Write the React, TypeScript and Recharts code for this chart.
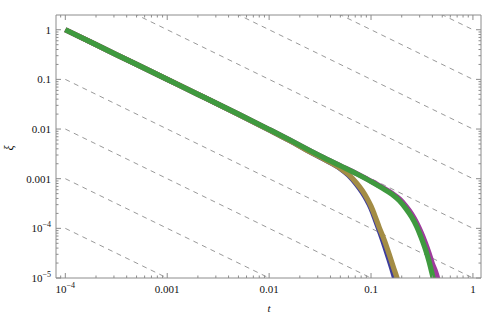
import React from 'react';
import { LineChart, Line, XAxis, YAxis, ReferenceLine } from 'recharts';

// ---------- data ----------
const X_DOMAIN: [number, number] = [8.1e-5, 1.2];
const Y_DOMAIN: [number, number] = [1e-5, 1.98];

const xMajorTicks = [1e-4, 1e-3, 1e-2, 1e-1, 1];
const xMajorLabels = [['10', '−4'], ['0.001'], ['0.01'], ['0.1'], ['1']];
const yMajorTicks = [1e-5, 1e-4, 1e-3, 1e-2, 1e-1, 1];
const yMajorLabels = [['10', '−5'], ['10', '−4'], ['0.001'], ['0.01'], ['0.1'], ['1']];
const minorMultipliers = [2, 3, 4, 5, 6, 7, 8, 9];

// dashed guide lines: value at t = 1e-4 and at t = 1
const guideT = [1e-4, 1];
const guideXiStart = [1e4, 1e3, 100, 10, 1, 0.1, 0.01, 1e-3, 1e-4];
const guideXiEnd = [1, 0.1, 0.01, 1e-3, 1e-4, 1e-5, 1e-6, 1e-7, 1e-8];

// curves
const tBlue = [1e-4, 2e-4, 5e-4, 1e-3, 2e-3, 5e-3, 0.01, 0.016, 0.025, 0.035, 0.05, 0.06, 0.072, 0.082, 0.091, 0.1, 0.11, 0.12, 0.135, 0.15, 0.165, 0.18];
const xiBlue = [1, 0.5, 0.2, 0.1, 0.05, 0.0198, 0.0096, 0.0058, 0.0035, 0.00243, 0.0016, 0.00118, 0.00077, 0.00053, 0.00037, 0.00025, 0.00015, 9.2e-5, 4.6e-5, 2.35e-5, 1.25e-5, 6.5e-6];

const tMagenta = [1e-4, 2e-4, 5e-4, 1e-3, 2e-3, 5e-3, 0.01, 0.016, 0.025, 0.035, 0.05, 0.072, 0.1, 0.13, 0.16, 0.19, 0.22, 0.25, 0.28, 0.31, 0.34, 0.37, 0.4, 0.43, 0.46];
const xiMagenta = [1, 0.5, 0.2, 0.1, 0.05, 0.0199, 0.0098, 0.006, 0.0037, 0.0026, 0.00182, 0.00127, 0.00089, 0.00066, 0.00051, 0.00039, 0.00028, 0.000195, 0.00013, 8.3e-5, 5.2e-5, 3.2e-5, 1.95e-5, 1.35e-5, 8.5e-6];

const tGold = [1e-4, 2e-4, 5e-4, 1e-3, 2e-3, 5e-3, 0.01, 0.016, 0.025, 0.035, 0.05, 0.06, 0.072, 0.082, 0.091, 0.1, 0.11, 0.12, 0.135, 0.15, 0.165, 0.18, 0.195];
const xiGold = [1, 0.5, 0.2, 0.1, 0.05, 0.0198, 0.0096, 0.0058, 0.0035, 0.00245, 0.00162, 0.00122, 0.00082, 0.00058, 0.00041, 0.00028, 0.000172, 0.000106, 5.8e-5, 3.1e-5, 1.7e-5, 1.0e-5, 5.8e-6];

const tGreen = [1e-4, 2e-4, 5e-4, 1e-3, 2e-3, 5e-3, 0.01, 0.016, 0.025, 0.035, 0.05, 0.072, 0.1, 0.13, 0.16, 0.19, 0.22, 0.25, 0.28, 0.31, 0.34, 0.37, 0.4, 0.43];
const xiGreen = [1, 0.5, 0.2, 0.1, 0.05, 0.0199, 0.0098, 0.006, 0.0037, 0.0026, 0.00182, 0.00126, 0.00088, 0.00064, 0.00049, 0.00036, 0.00025, 0.00017, 0.00011, 6.6e-5, 3.9e-5, 2.2e-5, 1.15e-5, 6e-6];

// ---------- styling ----------
const W = 486;
const H = 318;
const PLOT_L = 56;
const PLOT_R = 481;
const PLOT_T = 15;
const PLOT_B = 278;
const FRAME = '#8c8c8c';
const TEXT = '#111';
const FONT = '"Liberation Serif", "Times New Roman", serif';

const zip = (ts: number[], xs: number[]) => ts.map((t, i) => ({ t, xi: xs[i] }));

const buildTicks = (majors: number[], lo: number, hi: number) => {
  const out: number[] = [];
  const first = majors[0] / 10;
  [first, ...majors].forEach((m) => {
    if (m >= lo && m <= hi) out.push(m);
    minorMultipliers.forEach((k) => {
      const v = m * k;
      if (v >= lo && v <= hi) out.push(v);
    });
  });
  return out.sort((a, b) => a - b);
};

const xTicks = buildTicks(xMajorTicks, X_DOMAIN[0], X_DOMAIN[1]);
const yTicks = buildTicks(yMajorTicks, Y_DOMAIN[0], Y_DOMAIN[1]);

const majorIndex = (list: number[], v: number) =>
  list.findIndex((m) => Math.abs(m - v) / m < 1e-6);

const Label = ({ parts, x, y, anchor }: { parts: string[]; x: number; y: number; anchor: 'middle' | 'end' }) => (
  <text x={x} y={y} textAnchor={anchor} fontFamily={FONT} fontSize={11} fill={TEXT}>
    <tspan>{parts[0]}</tspan>
    {parts[1] && (
      <tspan dy={-5} fontSize={8}>
        {parts[1]}
      </tspan>
    )}
  </text>
);

const XTick = (props: any) => {
  const { x, payload } = props;
  const idx = majorIndex(xMajorTicks, payload.value);
  const len = idx >= 0 ? 5 : 2.5;
  return (
    <g>
      <line x1={x} x2={x} y1={PLOT_B} y2={PLOT_B - len} stroke={FRAME} strokeWidth={1} />
      <line x1={x} x2={x} y1={PLOT_T} y2={PLOT_T + len} stroke={FRAME} strokeWidth={1} />
      {idx >= 0 && <Label parts={xMajorLabels[idx]} x={x} y={PLOT_B + 15} anchor="middle" />}
    </g>
  );
};

const YTick = (props: any) => {
  const { y, payload } = props;
  const idx = majorIndex(yMajorTicks, payload.value);
  const len = idx >= 0 ? 5 : 2.5;
  return (
    <g>
      <line x1={PLOT_L} x2={PLOT_L + len} y1={y} y2={y} stroke={FRAME} strokeWidth={1} />
      <line x1={PLOT_R} x2={PLOT_R - len} y1={y} y2={y} stroke={FRAME} strokeWidth={1} />
      {idx >= 0 && <Label parts={yMajorLabels[idx]} x={PLOT_L - 5} y={y + 4} anchor="end" />}
    </g>
  );
};

const XTitle = () => (
  <text x={269} y={312} textAnchor="middle" fontFamily={FONT} fontStyle="italic" fontSize={11} fill={TEXT}>
    t
  </text>
);

const YTitle = () => (
  <text
    x={9}
    y={148}
    textAnchor="middle"
    dominantBaseline="central"
    transform="rotate(-90 9 148)"
    fontFamily={FONT}
    fontStyle="italic"
    fontSize={12}
    fill={TEXT}
  >
    ξ
  </text>
);

const curves = [
  { key: 'blue', data: zip(tBlue, xiBlue), color: '#3d3d9c' },
  { key: 'magenta', data: zip(tMagenta, xiMagenta), color: '#9e3c9c' },
  { key: 'gold', data: zip(tGold, xiGold), color: '#a38c45' },
  { key: 'green', data: zip(tGreen, xiGreen), color: '#3f9a3f' },
];

const guides = guideXiStart.map((s, i) => [
  { t: guideT[0], xi: s },
  { t: guideT[1], xi: guideXiEnd[i] },
]);

export default function App() {
  return (
    <div style={{ position: 'absolute', left: 0, top: 0, width: W, height: H, background: '#fff' }}>
      <LineChart width={W} height={H} margin={{ top: PLOT_T, right: W - PLOT_R, bottom: 0, left: 0 }}>
        <XAxis
          dataKey="t"
          type="number"
          scale="log"
          domain={X_DOMAIN}
          allowDataOverflow
          ticks={xTicks}
          interval={0}
          height={H - PLOT_B}
          tickLine={false}
          tickSize={0}
          tickMargin={0}
          axisLine={{ stroke: FRAME }}
          tick={<XTick />}
          label={<XTitle />}
        />
        <YAxis
          dataKey="xi"
          type="number"
          scale="log"
          domain={Y_DOMAIN}
          allowDataOverflow
          ticks={yTicks}
          interval={0}
          width={PLOT_L}
          tickLine={false}
          tickSize={0}
          tickMargin={0}
          axisLine={{ stroke: FRAME }}
          tick={<YTick />}
          label={<YTitle />}
        />
        <ReferenceLine y={Y_DOMAIN[1]} stroke={FRAME} />
        <ReferenceLine x={X_DOMAIN[1]} stroke={FRAME} />
        {guides.map((g, i) => (
          <Line
            key={'g' + i}
            data={g}
            dataKey="xi"
            type="linear"
            stroke="#9a9a9a"
            strokeWidth={1}
            strokeDasharray="5 4.5"
            dot={false}
            activeDot={false}
            isAnimationActive={false}
          />
        ))}
        {curves.map((c) => (
          <Line
            key={c.key}
            data={c.data}
            dataKey="xi"
            type="monotone"
            stroke={c.color}
            strokeWidth={5.2}
            dot={false}
            activeDot={false}
            isAnimationActive={false}
          />
        ))}
      </LineChart>
    </div>
  );
}
